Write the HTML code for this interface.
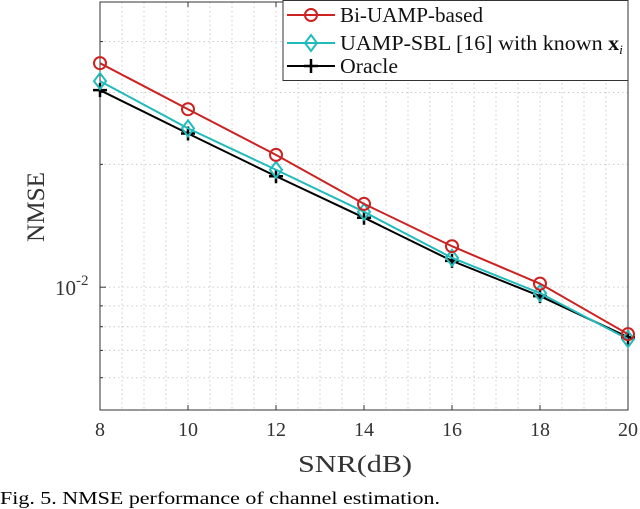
<!DOCTYPE html>
<html><head><meta charset="utf-8"><style>
body{margin:0;background:#fff;width:640px;height:509px;overflow:hidden;font-family:"Liberation Serif",serif}
svg{position:absolute;left:0;top:0}
</style></head><body>
<svg id="c" width="640" height="509">
<g id="grid"></g>
<g id="axes"></g>
<g id="series"></g>
<g id="legend"></g>
<text x="44" y="207" font-size="25" fill="#333" text-anchor="middle" textLength="70" lengthAdjust="spacingAndGlyphs" transform="rotate(-90 44 207)">NMSE</text>
<text x="298" y="472" font-size="24" fill="#333" textLength="114" lengthAdjust="spacingAndGlyphs">SNR(dB)</text>
<text x="0" y="504" font-size="18" fill="#000" textLength="440" lengthAdjust="spacingAndGlyphs">Fig. 5.  NMSE performance of channel estimation.</text>
</svg>
<script>
const snr=[8,10,12,14,16,18,20];
const biUamp=[0.0354,0.0273,0.0211,0.0160,0.0126,0.0102,0.00767];
const uampSbl=[0.0320,0.0245,0.0194,0.0153,0.0118,0.00967,0.00746];
const oracle=[0.0304,0.0238,0.0187,0.0148,0.0116,0.00951,0.00754];
const xTicks=[8,10,12,14,16,18,20];
const yMinor=[0.005,0.006,0.007,0.008,0.009,0.02,0.03,0.04];
const L=100,R=628,T=2,B=410,xmin=8,xmax=20,ymin=0.005,ymax=0.05;
const NS="http://www.w3.org/2000/svg";
function X(v){return L+(v-xmin)/(xmax-xmin)*(R-L);}
function Y(v){return B-(Math.log10(v)-Math.log10(ymin))/(Math.log10(ymax)-Math.log10(ymin))*(B-T);}
function mk(tag,a,p){const e=document.createElementNS(NS,tag);for(const k in a)e.setAttribute(k,a[k]);p.appendChild(e);return e;}
const g=document.getElementById('grid'),ax=document.getElementById('axes'),s=document.getElementById('series'),lg=document.getElementById('legend');
for(let v=8.5;v<20;v+=0.5){const l=mk('line',{x1:X(v),x2:X(v),y1:T,y2:B,stroke:'#ccc','stroke-width':1,'stroke-dasharray':'1.5,3'},g);

}
yMinor.concat([0.01]).forEach(v=>{const l=mk('line',{x1:L,x2:R,y1:Y(v),y2:Y(v),stroke:'#ccc','stroke-width':1,'stroke-dasharray':'1.5,3'},g);

});
mk('rect',{x:L,y:T,width:R-L,height:B-T,fill:'none',stroke:'#333','stroke-width':1},ax);
xTicks.forEach(v=>{mk('line',{x1:X(v),x2:X(v),y1:B,y2:B-5,stroke:'#333'},ax);mk('line',{x1:X(v),x2:X(v),y1:T,y2:T+5,stroke:'#333'},ax);
const t=mk('text',{x:X(v),y:B+26,'font-size':20,fill:'#333','text-anchor':'middle'},ax);t.textContent=v;

});
yMinor.forEach(v=>{mk('line',{x1:L,x2:L+3,y1:Y(v),y2:Y(v),stroke:'#333'},ax);});
mk('line',{x1:L,x2:L+6,y1:Y(0.01),y2:Y(0.01),stroke:'#333'},ax);
const yt=mk('text',{x:55,y:Y(0.01)+8,'font-size':21,fill:'#333'},ax);yt.innerHTML='10<tspan dy="-10" font-size="15">-2</tspan>';


function marker(kind,x,y,col,p){
 if(kind==='o')return mk('circle',{cx:x,cy:y,r:6,fill:'none',stroke:col,'stroke-width':2},p);
 if(kind==='d')return mk('path',{d:`M${x} ${y-8}L${x+6} ${y}L${x} ${y+8}L${x-6} ${y}Z`,fill:'none',stroke:col,'stroke-width':2},p);
 return mk('path',{d:`M${x-7} ${y}H${x+7}M${x} ${y-7}V${y+7}`,fill:'none',stroke:col,'stroke-width':2.5},p);}
const ser=[[biUamp,'#cc2222','o','bi-uamp'],[uampSbl,'#22bbbb','d','uamp-sbl'],[oracle,'#000','p','oracle']];
ser.slice().reverse().forEach(([d,c,k,n])=>{
 const pl=mk('polyline',{points:d.map((v,i)=>X(snr[i])+','+Y(v)).join(' '),fill:'none',stroke:c,'stroke-width':2},s);
 
 
 d.forEach((v,i)=>{const m=marker(k,X(snr[i]),Y(v),c,s);
 
 });});
mk('rect',{x:283,y:0.5,width:345,height:80,fill:'#fff',stroke:'#333','stroke-width':1},lg);
const labels=['Bi-UAMP-based','UAMP-SBL [16] with known <tspan font-weight="bold">x</tspan><tspan font-style="italic" font-size="13" dy="4">i</tspan>','Oracle'];
const lens=[143,283,58];
const ly=[15,43,66];
ser.forEach(([d,c,k,n],i)=>{mk('line',{x1:287,x2:335,y1:ly[i],y2:ly[i],stroke:c,'stroke-width':2},lg);marker(k,311,ly[i],c,lg);
 const t=mk('text',{x:340,y:ly[i]+7,'font-size':21,fill:'#111',textLength:lens[i],lengthAdjust:'spacingAndGlyphs'},lg);t.innerHTML=labels[i];
 
 });
</script>
</body></html>
